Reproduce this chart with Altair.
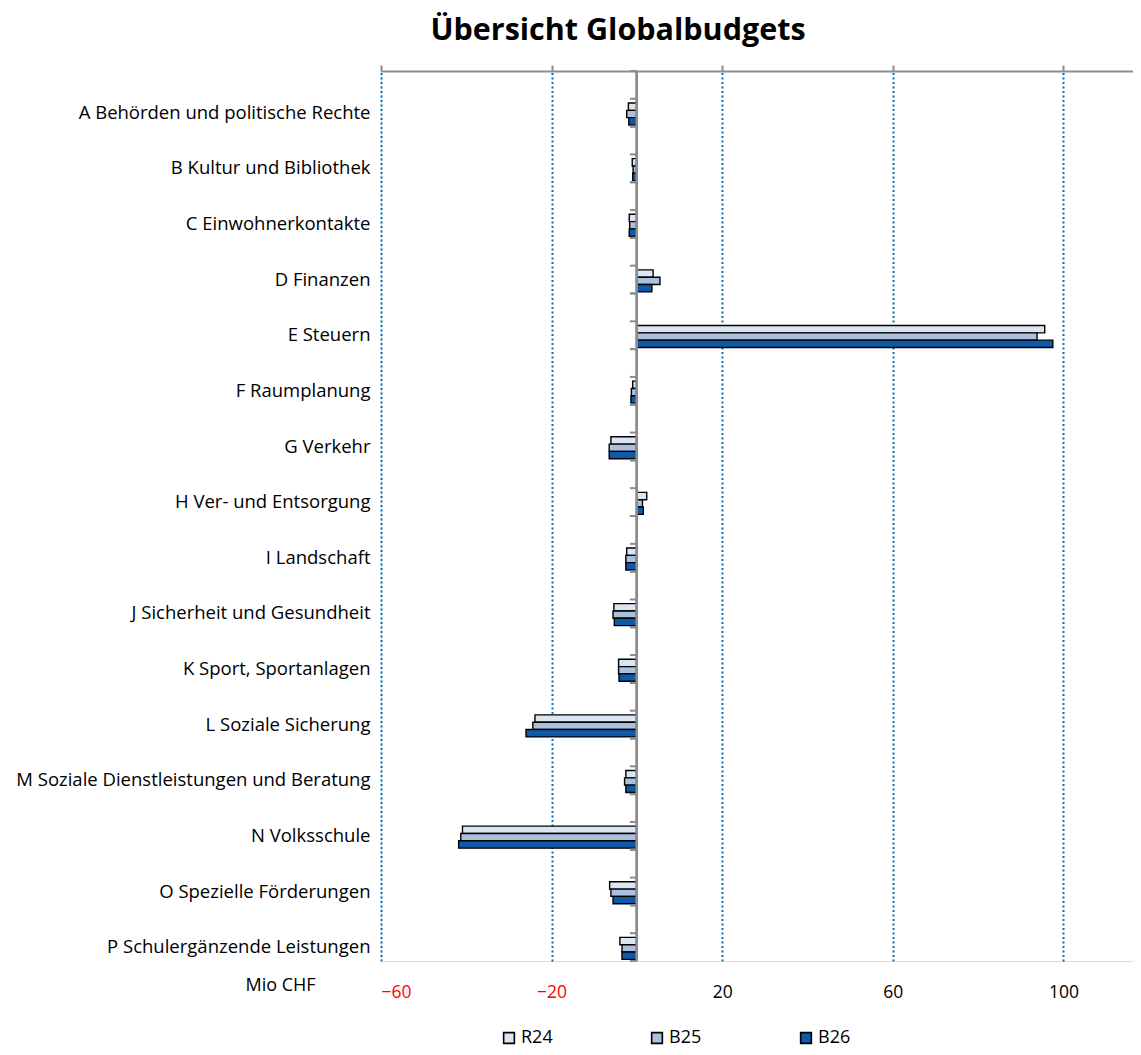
import altair as alt
import pandas as pd

categories = [
    "A Behörden und politische Rechte",
    "B Kultur und Bibliothek",
    "C Einwohnerkontakte",
    "D Finanzen",
    "E Steuern",
    "F Raumplanung",
    "G Verkehr",
    "H Ver- und Entsorgung",
    "I Landschaft",
    "J Sicherheit und Gesundheit",
    "K Sport, Sportanlagen",
    "L Soziale Sicherung",
    "M Soziale Dienstleistungen und Beratung",
    "N Volksschule",
    "O Spezielle Förderungen",
    "P Schulergänzende Leistungen",
]
series = ["R24", "B25", "B26"]
r24 = [-2.0, -1.1, -1.8, 3.8, 95.6, -1.0, -6.1, 2.3, -2.4, -5.4, -4.3, -23.9, -2.6, -40.9, -6.4, -4.0]
b25 = [-2.4, -0.9, -1.7, 5.4, 93.8, -1.3, -6.5, 1.3, -2.6, -5.6, -4.3, -24.4, -2.9, -41.3, -6.1, -3.5]
b26 = [-1.9, -1.0, -1.8, 3.5, 97.5, -1.4, -6.5, 1.5, -2.6, -5.3, -4.2, -26.0, -2.6, -41.8, -5.6, -3.5]
tick_values = [-60, -20, 20, 60, 100]
colors = ["#DCE6F2", "#A9C0DF", "#0E5AA8"]

rows = []
for s, vals in zip(series, [r24, b25, b26]):
    for c, v in zip(categories, vals):
        rows.append({"Kategorie": c, "Serie": s, "Wert": v})
df = pd.DataFrame(rows)
cat_df = pd.DataFrame({"Kategorie": categories})

FONT = "Open Sans"
xscale = alt.Scale(domain=[-60, 116.3], nice=False, zero=False)
yscale = alt.Scale(domain=categories, paddingInner=0, paddingOuter=0)

bars = alt.Chart(df).mark_bar(stroke="black", strokeWidth=1.4).encode(
    x=alt.X("Wert:Q", scale=xscale,
            axis=alt.Axis(orient="bottom", values=tick_values, domain=False, ticks=False,
                          labelFontSize=17.5, labelFont=FONT, labelPadding=22,
                          labelColor=alt.expr("datum.value < 0 ? '#FF0000' : '#000000'"),
                          grid=True, gridColor="#0070C0", gridDash=[2, 2.5], gridWidth=2,
                          title="Mio CHF", titleFont=FONT, titleFontSize=18, titleFontWeight="normal",
                          titleColor="#000000", titleAnchor="start", titleAlign="left",
                          titleBaseline="middle", titleX=-136, titleY=24)),
    y=alt.Y("Kategorie:N", scale=yscale, sort=categories,
            axis=alt.Axis(title=None, domain=False, ticks=False, labelFontSize=18.5, labelFont=FONT,
                          labelColor="#000000", labelOffset=14, labelPadding=11, labelLimit=500)),
    yOffset=alt.YOffset("Serie:N", sort=series,
                        scale=alt.Scale(domain=series, range=[32, 54], paddingInner=0, paddingOuter=0)),
    color=alt.Color("Serie:N", sort=series, scale=alt.Scale(domain=series, range=colors),
                    legend=alt.Legend(title=None, orient="none", direction="horizontal",
                                      legendX=119, legendY=958, symbolType="square", symbolSize=115,
                                      symbolStrokeColor="black", symbolStrokeWidth=1.6,
                                      labelFontSize=18, labelFont=FONT, labelColor="#000000",
                                      labelOffset=3, columnPadding=95)),
)

zero_line = alt.Chart(cat_df).mark_rule(color="#8C8C8C", strokeWidth=2).encode(
    x=alt.XDatum(0, scale=xscale,
                 axis=alt.Axis(orient="top", values=tick_values, labels=False, grid=False,
                               domain=True, domainColor="#8C8C8C", domainWidth=2,
                               ticks=True, tickColor="#8C8C8C", tickWidth=2, tickSize=6, title=None)),
)

def ytick(offset):
    return alt.Chart(cat_df).mark_rule(color="#8C8C8C", strokeWidth=2, xOffset=-7, yOffset=offset).encode(
        x=alt.XDatum(0, scale=xscale, axis=None),
        x2=alt.X2Datum(0),
        y=alt.Y("Kategorie:N", scale=yscale, sort=categories),
    )

chart = alt.layer(
    bars, zero_line, ytick(-27.8), ytick(0), ytick(27.8)
).resolve_axis(x="independent").properties(
    width=752, height=890,
    autosize=alt.AutoSizeParams(type="none"),
    padding={"left": 373, "top": 63, "right": 0, "bottom": 86},
    title=alt.TitleParams("Übersicht Globalbudgets", font=FONT, fontSize=30.5, fontWeight="bold",
                          color="#000000", anchor="middle", frame="group", dx=-139, offset=18),
).configure_view(strokeWidth=0, stroke="transparent").configure_axis(
    domain=False, grid=False, domainColor="#FFFFFF", gridColor="#FFFFFF", tickColor="#FFFFFF",
    domainOpacity=0, gridOpacity=0, tickOpacity=0
).configure(background="white")

chart.save("out.html", embed_options={"renderer": "svg", "actions": False})
